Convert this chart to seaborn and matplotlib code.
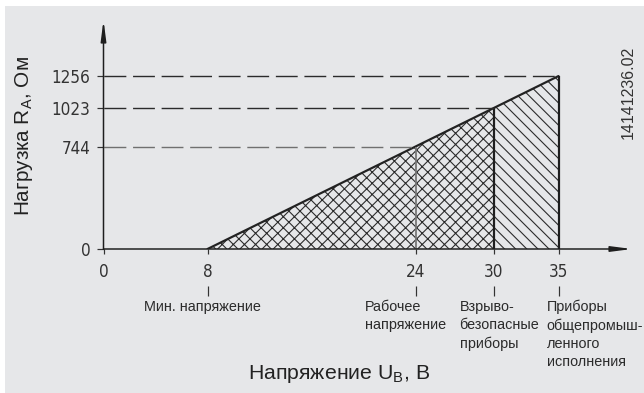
import numpy as np
import matplotlib
matplotlib.use("Agg")
import matplotlib.pyplot as plt
import matplotlib.transforms as mtransforms
from matplotlib.patches import Rectangle
import seaborn as sns

# data
u_points = [8, 24, 30, 35]            # voltage, V
r_points = [0, 744, 1023, 1256]       # load, Ohm
x_ticks = [0, 8, 24, 30, 35]
y_ticks = [0, 744, 1023, 1256]
notes = ["Мин. напряжение", "Рабочее\nнапряжение", "Взрыво-\nбезопасные\nприборы",
         "Приборы\nобщепромыш-\nленного\nисполнения"]
note_dx = [-64, -51, -34, -12]        # text offset from tick, px
dash_colors = ["#2b2b2b", "#2b2b2b", "#707070"]

DPI = 100
W, H = 644, 393


def px(v):
    # pixels -> points
    return v * 72.0 / DPI


sns.set_theme(style="white")
plt.rcParams["font.family"] = ["Liberation Sans", "DejaVu Sans"]
plt.rcParams["hatch.linewidth"] = px(1.1)
plt.rcParams["hatch.color"] = "#2b2b2b"

fig = plt.figure(figsize=(W / DPI, H / DPI), dpi=DPI)
fig.add_artist(Rectangle((5 / W, 0), 1, 387 / H, transform=fig.transFigure,
                         facecolor="#e6e7e9", edgecolor="none", zorder=-10))

ax = fig.add_axes([103.5 / W, 144 / H, 528.5 / W, 229 / H])
ax.set_facecolor("none")
ax.set_xlim(0, 528.5 / 13)
ax.set_ylim(0, 229 / 0.1377)
for s in ax.spines.values():
    s.set_visible(False)

# hatched areas under the line
u = np.array(u_points, dtype=float)
r = np.array(r_points, dtype=float)
m1 = u <= 30
ax.fill_between(u[m1], 0, r[m1], facecolor="none", hatch="xxx", linewidth=0, edgecolor="#2b2b2b")
m2 = u >= 30
ax.fill_between(u[m2], 0, r[m2], facecolor="none", hatch="\\\\\\", linewidth=0, edgecolor="#2b2b2b")

sns.lineplot(x=u_points, y=r_points, color="#222222", linewidth=px(2.2), ax=ax)

# verticals at the marked voltages
ax.vlines(u_points[1], 0, r_points[1], color="#777777", linewidth=px(1.8))
ax.vlines(u_points[2:], 0, r_points[2:], color="#1e1e1e", linewidth=px(2.2))

# dashed guides from the y axis
for uu, rr, c in zip(u_points[1:][::-1], r_points[1:][::-1], dash_colors):
    ax.hlines(rr, 0, uu, color=c, linewidth=px(1.4), linestyles=(0, (15.6, 4.8)))

# axes with arrows
arrow = dict(arrowstyle="-|>,head_length=1.7,head_width=0.22", color="#1e1e1e",
             lw=px(1.5), shrinkA=0, shrinkB=0, mutation_scale=px(10))
ax.annotate("", xy=(1, 0), xytext=(0, 0), xycoords="axes fraction", arrowprops=arrow)
ax.annotate("", xy=(0, 1), xytext=(0, 0), xycoords="axes fraction", arrowprops=arrow)

tick_font = dict(family=["DejaVu Sans"], stretch="condensed", weight="light",
                 size=px(17), color="#333333")
ax.set_xticks(x_ticks)
ax.set_xticklabels([str(t) for t in x_ticks], **tick_font)
ax.set_yticks(y_ticks)
ax.set_yticklabels([str(t) for t in y_ticks], **tick_font)
ax.tick_params(axis="x", direction="out", length=px(5), width=px(1.2), color="#333333",
               pad=px(9), bottom=True)
ax.tick_params(axis="y", direction="out", length=px(7), width=px(1.2), color="#333333",
               pad=px(6), left=True)

# small marks and notes under the tick labels
tr = mtransforms.blended_transform_factory(ax.transData, ax.transAxes)
ax.vlines(x_ticks[1:], -37 / 229, -47 / 229, transform=tr, color="#333333",
          linewidth=px(1.2), clip_on=False)
for xt, txt, dx in zip(x_ticks[1:], notes, note_dx):
    ax.annotate(txt, xy=(xt, 0), xycoords="data", xytext=(px(dx), px(-51)),
                textcoords="offset points", ha="left", va="top", fontsize=px(14.4),
                color="#2b2b2b", linespacing=1.36, annotation_clip=False)

fig.text(339 / W, 1 - 374 / H, "Напряжение U$_\\mathregular{B}$, В", ha="center",
         va="center", fontsize=px(21.3), color="#222222")
fig.text(24 / W, 1 - 136 / H, "Нагрузка R$_\\mathregular{A}$, Ом", ha="center",
         va="center", rotation=90, fontsize=px(20.8), color="#222222")
fig.text(628.5 / W, 1 - 92.5 / H, "14141236.02", ha="center", va="center",
         rotation=90, fontsize=px(16), color="#333333")

fig.savefig("out.png", dpi=DPI)
